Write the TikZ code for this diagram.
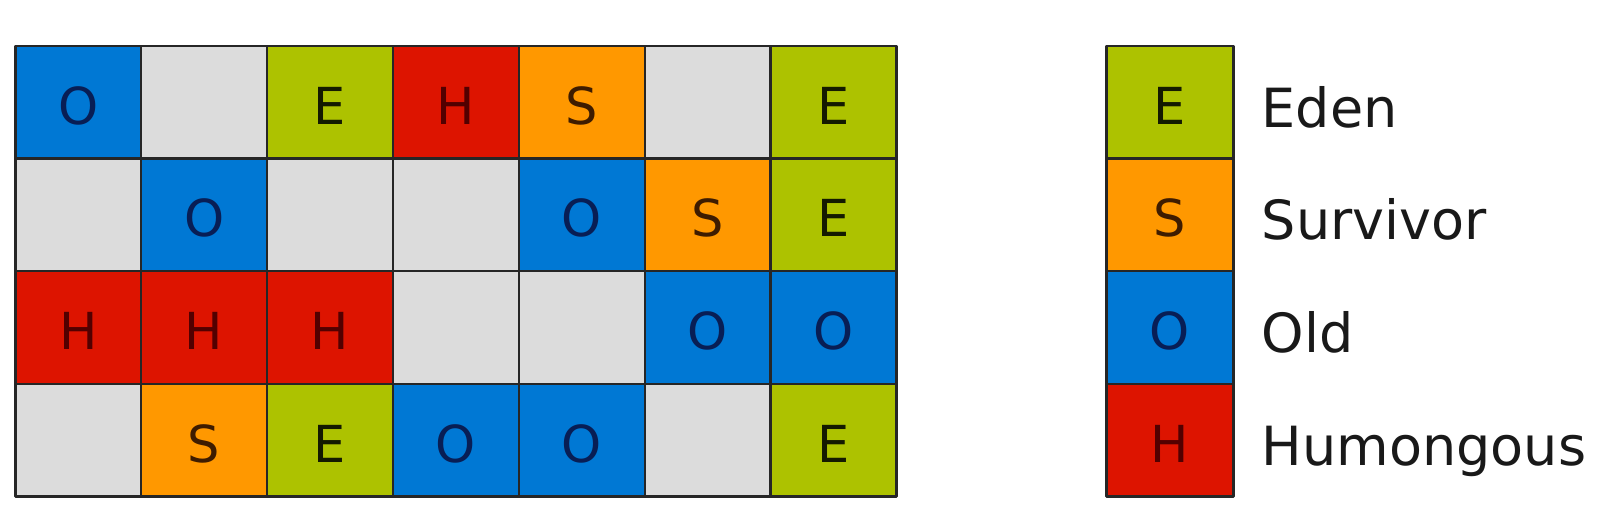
\documentclass[tikz,border=0pt]{standalone}
\usepackage{fontspec}
\setmainfont{DejaVu Sans}
\usetikzlibrary{positioning}
\definecolor{edenfill}{HTML}{ADC200}
\definecolor{survfill}{HTML}{FF9800}
\definecolor{oldfill}{HTML}{0078D4}
\definecolor{humfill}{HTML}{DD1400}
\definecolor{freefill}{HTML}{DCDCDC}
\definecolor{edentext}{HTML}{141A00}
\definecolor{survtext}{HTML}{3E1C00}
\definecolor{oldtext}{HTML}{081E55}
\definecolor{humtext}{HTML}{520000}
\tikzset{
	region/.style={draw=black!85, line width=2.5pt, minimum width=125.9pt, minimum height=112.5pt,
		inner sep=0pt, anchor=north west, text height=44pt, text depth=0pt,
		font=\fontsize{51}{51}\selectfont},
	regE/.style={fill=edenfill, text=edentext, node contents=E},
	regS/.style={fill=survfill, text=survtext, node contents=S},
	regO/.style={fill=oldfill, text=oldtext, node contents=O},
	regH/.style={fill=humfill, text=humtext, node contents=H},
	regF/.style={fill=freefill, node contents={}},
	keylabel/.style={inner sep=0pt, anchor=west, text height=50pt, text depth=0pt,
		text=black!90, font=\fontsize{54}{54}\selectfont}
}
\begin{document}
\begin{tikzpicture}[x=1pt, y=-1pt, line join=round]
	\def\cw{125.9} \def\ch{112.5} % cell size
	\def\gx{14} \def\gy{45} % grid corner
	\useasboundingbox (0,0) rectangle (1616,510);
	% heap regions
	\foreach \row [count=\r from 0] in {{O,F,E,H,S,F,E},{F,O,F,F,O,S,E},{H,H,H,F,F,O,O},{F,S,E,O,O,F,E}}{
		\foreach \t [count=\c from 0] in \row
			\node (cell-\r-\c) at ({\gx+\c*\cw},{\gy+\r*\ch}) [region, reg\t];
	}
	% legend
	\foreach \t/\name [count=\r from 0] in {E/Eden,S/Survivor,O/Old,H/Humongous}{
		\node (key-\t) at (1105,{\gy+\r*\ch}) [region, minimum width=127pt, reg\t];
		\node[keylabel, right=27pt of key-\t] (lbl-\t) {\name};
	}
\end{tikzpicture}
\end{document}
